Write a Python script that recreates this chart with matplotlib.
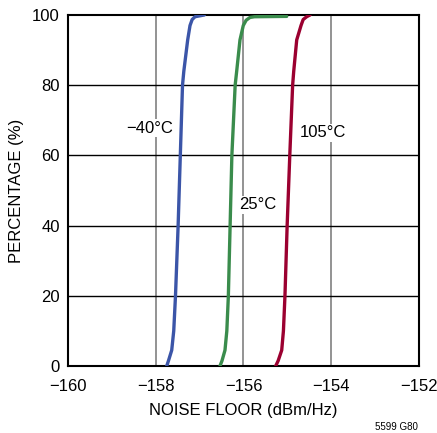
import matplotlib.pyplot as plt

plt.rcParams['font.family'] = ['Liberation Sans', 'DejaVu Sans']

# cumulative distributions
pct = [0, 1.5, 4.5, 10, 20, 40, 60, 80, 84, 92.9, 97, 98.7, 99.5, 100]
nf_m40 = [-157.750, -157.71, -157.636, -157.59, -157.55, -157.49, -157.440, -157.39,
          -157.36, -157.272, -157.219, -157.17, -157.105, -156.893]
nf_105 = [-155.266, -155.21, -155.129, -155.09, -155.055, -155.005, -154.945, -154.88,
          -154.855, -154.787, -154.689, -154.64, -154.560, -154.484]
pct_25 = [0, 1.5, 4.5, 10, 20, 40, 60, 80, 84, 92.9, 97, 98.5, 99.3, 99.5, 99.6]
nf_25 = [-156.536, -156.49, -156.422, -156.38, -156.345, -156.305, -156.265, -156.19,
         -156.155, -156.080, -156.005, -155.94, -155.852, -155.75, -155.015]

fig = plt.figure(figsize=(4.37, 4.33), dpi=100)
ax = fig.add_axes([0.1556, 0.1547, 0.8032, 0.8107])

for x in [-158, -156, -154]:
    ax.axvline(x, color='#808080', lw=1.2, zorder=1)
for y in [20, 40, 60, 80]:
    ax.axhline(y, color='black', lw=1.0, zorder=1)

line_kw = dict(lw=2.4, zorder=3, solid_joinstyle='round', solid_capstyle='round')
ax.plot(nf_m40, pct, color='#3b55a8', **line_kw)
ax.plot(nf_25, pct_25, color='#3a8c4c', **line_kw)
ax.plot(nf_105, pct, color='#9b0030', **line_kw)

box = dict(facecolor='white', edgecolor='none', pad=1)
ax.text(-158.13, 67.8, '\u221240\u00b0C', fontsize=12, ha='center', va='center', bbox=box, zorder=2)
ax.text(-155.67, 45.9, '25\u00b0C', fontsize=12, ha='center', va='center', bbox=box, zorder=2)
ax.text(-154.19, 66.4, '105\u00b0C', fontsize=12, ha='center', va='center', bbox=box, zorder=2)

ax.set_xlim(-160, -152)
ax.set_ylim(0, 100)
ax.set_xticks([-160, -158, -156, -154, -152])
ax.set_yticks([0, 20, 40, 60, 80, 100])
ax.tick_params(length=0, labelsize=12)
ax.tick_params(axis='x', pad=9)
ax.tick_params(axis='y', pad=6)
for s in ax.spines.values():
    s.set_linewidth(1.5)
ax.set_xlabel('NOISE FLOOR (dBm/Hz)', fontsize=12, labelpad=7)
ax.set_ylabel('PERCENTAGE (%)', fontsize=12, labelpad=6)
fig.text(0.957, 0.003, '5599 G80', fontsize=7, ha='right', va='bottom')

fig.savefig('out.png', dpi=100)
